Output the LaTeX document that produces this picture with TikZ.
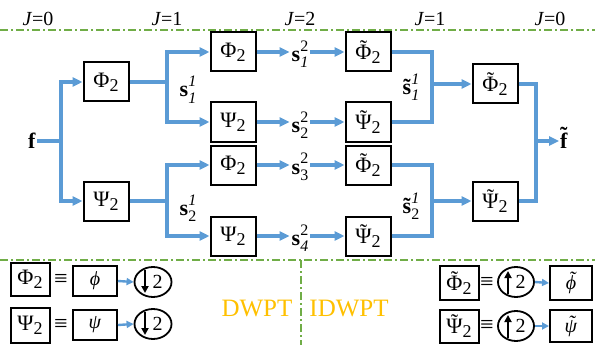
\documentclass[tikz,border=0pt]{standalone}
\usepackage{fontspec}
\setmainfont{Liberation Serif}
\usetikzlibrary{arrows.meta,shapes.geometric}
\definecolor{lblue}{HTML}{5B9BD5}
\definecolor{lgreen}{HTML}{70AD47}
\definecolor{gold}{HTML}{FFC000}
\newcommand\tld[1]{{\accent"02DC #1}}
\newcommand\lsub[1]{\raisebox{-4pt}{\fontsize{18}{18}\selectfont #1}}
\newcommand\Ph{Φ\lsub{2}}
\newcommand\Ps{Ψ\lsub{2}}
\newcommand\tPh{\tld{Φ}\lsub{2}}
\newcommand\tPs{\tld{Ψ}\lsub{2}}
\newcommand\slab[3]{#1\makebox[0pt][l]{\raisebox{10pt}{\fontsize{16}{16}\selectfont #2}}\raisebox{-6pt}{\fontsize{16}{16}\selectfont #3}}
\tikzset{
  conn/.style={draw=lblue, line width=3.2pt},
  arr/.style={conn, -{Triangle[length=10pt,width=9pt]}},
  sarr/.style={draw=lblue, line width=2.4pt, -{Triangle[length=7pt,width=7pt]}},
  box/.style={draw, line width=2pt, inner sep=0pt, minimum width=45pt, minimum height=39pt, font=\fontsize{22}{22}\selectfont},
  lbox/.style={draw, line width=2pt, inner sep=0pt, minimum width=39pt, minimum height=33pt, font=\fontsize{22}{22}\selectfont},
  gbox/.style={draw=black, line width=2pt, inner sep=0pt, minimum width=44pt, minimum height=30pt, font=\fontsize{20}{20}\selectfont},
  lab/.style={inner sep=2pt, anchor=base, font=\fontsize{22}{22}\selectfont},
  jlab/.style={inner sep=0pt, font=\fontsize{20}{20}\selectfont},
  sepline/.style={draw=lgreen, line width=1.6pt, dash pattern=on 8pt off 3pt on 2pt off 3pt},
  rate/.style={draw, ellipse, line width=1.8pt, minimum width=37pt, minimum height=30pt, inner sep=0pt, font=\fontsize{20}{20}\selectfont},
  rarr/.style={draw=black, line width=2pt, -{Triangle[length=7pt,width=7pt]}},
  eqs/.style={inner sep=0pt, font=\fontsize{24}{24}\selectfont},
  big/.style={text=gold, inner sep=0pt, font=\fontsize{25}{25}\selectfont}
}
\begin{document}
\begin{tikzpicture}[x=1pt,y=-1pt]
\useasboundingbox (0,0) rectangle (595,345);
% separators
\draw[sepline] (0,30) -- (595,30);
\draw[sepline] (0,260) -- (595,260);
\draw[sepline] (301,260) -- (301,345);
% level labels
\node[jlab] (j0) at (38,19) {\textit{J}=0};
\node[jlab] (j1l) at (167,19) {\textit{J}=1};
\node[jlab] (j2) at (300,19) {\textit{J}=2};
\node[jlab] (j1r) at (430,19) {\textit{J}=1};
\node[jlab] (j0r) at (550,19) {\textit{J}=0};
% input
\node[inner sep=1pt, font=\fontsize{22}{22}\selectfont] (f) at (32,141) {\textbf{f}};
\coordinate (jf) at (61,141);
\node[box] (A) at (106,82) {\Ph};
\node[box] (B) at (106,201) {\Ps};
\coordinate (ja) at (167,82);
\coordinate (jb) at (167,201);
\node[box] (C1) at (233,52) {\Ph};
\node[box] (C2) at (233,122) {\Ps};
\node[box] (C3) at (233,165) {\Ph};
\node[box] (C4) at (233,236) {\Ps};
\node[box] (D1) at (368,52) {\tPh};
\node[box] (D2) at (368,122) {\tPs};
\node[box] (D3) at (368,165) {\tPh};
\node[box] (D4) at (368,236) {\tPs};
\coordinate (jr1) at (432,84);
\coordinate (jr2) at (432,201);
\node[box] (E1) at (495,84) {\tPh};
\node[box] (E2) at (495,201) {\tPs};
\coordinate (jo) at (536,141);
\node[inner sep=1pt, anchor=base, font=\fontsize{22}{22}\selectfont] (ft) at (564,148) {\textbf{\tld{f}}};
% labels
\node[lab] (s11) at (188,97) {\slab{\textbf{s}}{\textit{1}}{\textit{1}}};
\node[lab] (s21) at (188,215) {\slab{\textbf{s}}{\textit{1}}{2}};
\node[lab] (s12) at (300,62) {\slab{\textbf{s}}{2}{\textit{1}}};
\node[lab] (s22) at (300,132) {\slab{\textbf{s}}{2}{2}};
\node[lab] (s32) at (300,174) {\slab{\textbf{s}}{2}{3}};
\node[lab] (s42) at (300,245) {\slab{\textbf{s}}{2}{\textit{4}}};
\node[lab] (t11) at (411,95) {\slab{\textbf{\tld{s}}}{\textit{1}}{\textit{1}}};
\node[lab] (t21) at (411,213) {\slab{\textbf{\tld{s}}}{\textit{1}}{2}};
% connectors
\draw[conn] (f.east) -- (jf);
\draw[arr] (jf) |- (A.west);
\draw[arr] (jf) |- (B.west);
\draw[conn] (A.east) -- (ja);
\draw[arr] (ja) |- (C1.west);
\draw[arr] (ja) |- (C2.west);
\draw[conn] (B.east) -- (jb);
\draw[arr] (jb) |- (C3.west);
\draw[arr] (jb) |- (C4.west);
\foreach \i/\s in {1/s12,2/s22,3/s32,4/s42}{
  \draw[arr] (C\i.east) -- (C\i.east -| \s.west);
  \draw[arr] (D\i.west -| \s.east) -- (D\i.west);
}
\draw[conn] (D1.east) -| (jr1);
\draw[conn] (D2.east) -| (jr1);
\draw[arr] (jr1) -- (E1.west);
\draw[conn] (D3.east) -| (jr2);
\draw[conn] (D4.east) -| (jr2);
\draw[arr] (jr2) -- (E2.west);
\draw[conn] (E1.east) -| (jo);
\draw[conn] (E2.east) -| (jo);
\draw[arr] (jo) -- (jo -| ft.west);
% legend left
\node[lbox] (LP) at (30,279) {\Ph};
\node[eqs] (eq1) at (61,280) {≡};
\node[gbox] (lphi) at (95,281) {\textit{ϕ}};
\node[rate] (dn1) at (153,282) {\hspace{9pt}2};
\draw[sarr] (lphi.east) -- (dn1.west);
\draw[rarr] ([shift={(-8,-12)}]dn1.center) -- ([shift={(-8,11)}]dn1.center);
\node[lbox, minimum height=35pt] (LS) at (30,325) {\Ps};
\node[eqs] (eq2) at (61,325) {≡};
\node[gbox] (lpsi) at (95,325) {\textit{ψ}};
\node[rate] (dn2) at (153,324) {\hspace{9pt}2};
\draw[sarr] (lpsi.east) -- (dn2.west);
\draw[rarr] ([shift={(-8,-12)}]dn2.center) -- ([shift={(-8,11)}]dn2.center);
% legend right
\node[lbox, minimum height=34pt] (RP) at (459,283) {\tPh};
\node[eqs] (eq3) at (487,283) {≡};
\node[rate, minimum width=36pt] (up1) at (516,282) {\hspace{9pt}2};
\node[gbox, minimum width=42pt, minimum height=34pt] (rphi) at (571,283) {\textit{\tld{ϕ}}};
\draw[sarr] (up1.east) -- (rphi.west);
\draw[rarr] ([shift={(-8,12)}]up1.center) -- ([shift={(-8,-11)}]up1.center);
\node[lbox, minimum height=33pt] (RS) at (459,326) {\tPs};
\node[eqs] (eq4) at (487,326) {≡};
\node[rate, minimum width=36pt] (up2) at (516,326) {\hspace{9pt}2};
\node[gbox, minimum width=42pt, minimum height=32pt] (rpsi) at (571,326) {\textit{\tld{ψ}}};
\draw[sarr] (up2.east) -- (rpsi.west);
\draw[rarr] ([shift={(-8,12)}]up2.center) -- ([shift={(-8,-11)}]up2.center);
% titles
\node[big] (dw) at (257,309) {DWPT};
\node[big] (idw) at (349,309) {IDWPT};
\end{tikzpicture}
\end{document}
